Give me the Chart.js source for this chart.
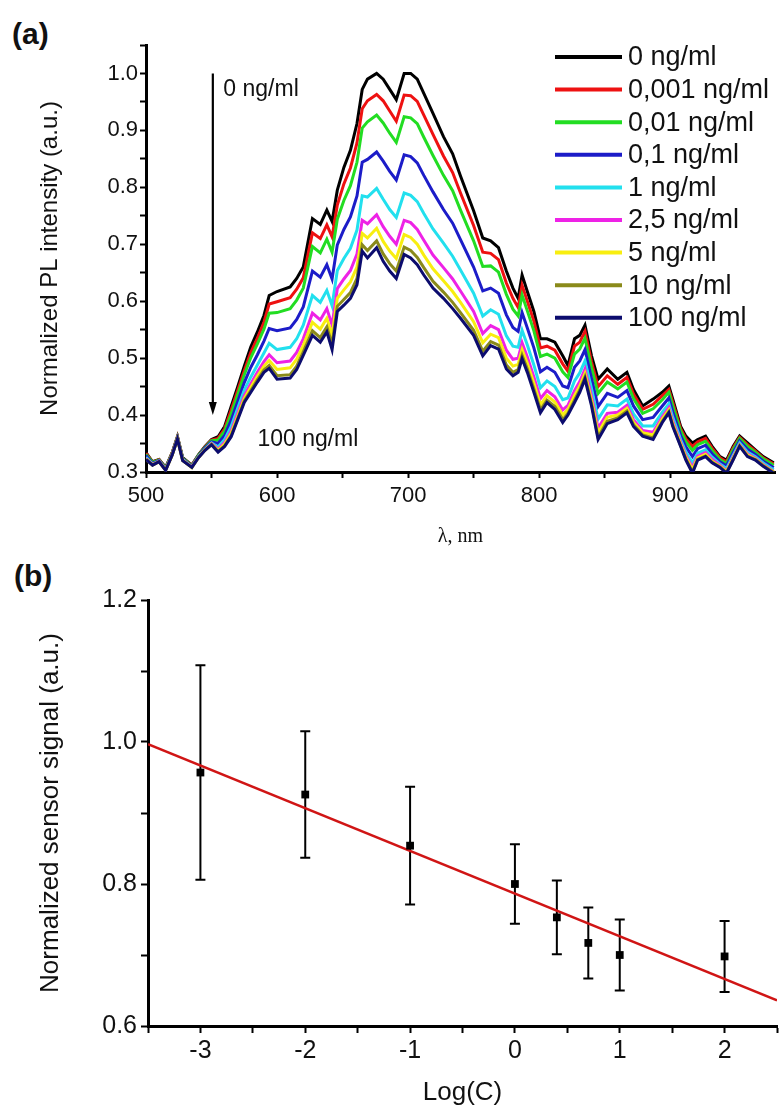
<!DOCTYPE html>
<html>
<head>
<meta charset="utf-8">
<script src="https://cdn.jsdelivr.net/npm/chart.js@4.4.1/dist/chart.umd.min.js"></script>
<style>
  body { margin: 0; background: #fff; width: 784px; height: 1109px; position: relative; overflow: hidden; font-family: "Liberation Sans", Arial, sans-serif; }
  canvas { position: absolute; left: 0; }
  #chartA { top: 0; }
  #chartB { top: 550px; }
  .tag { position: absolute; font-weight: bold; font-size: 30px; line-height: 30px; color: #111; }
</style>
</head>
<body>
<div class="tag" style="left:12px;top:19px">(a)</div>
<div class="tag" style="left:14px;top:561px">(b)</div>
<canvas id="chartA" width="784" height="560"></canvas>
<canvas id="chartB" width="784" height="559"></canvas>
<script>
// ---- panel (a): PL spectra ----
const wavelengths = [500,505,510,515,520,524,528,535,540,545,550,555,560,565,570,575,580,585,590,594,600,610,615,620,627,633,638,642,646,651,656,661,665,669,676,681,686,691,697,702,707,712,719,727,734,740,750,757,763,769,775,780,784,787,791,796,801,806,812,818,822,827,831,835,840,845,852,860,867,872,879,887,894,899,902,908,912,917,921,927,932,938,943,948,953,959,965,971,979];

const seriesLabels = ["0 ng/ml", "0,001 ng/ml", "0,01 ng/ml", "0,1 ng/ml", "1 ng/ml", "2,5 ng/ml", "5 ng/ml", "10 ng/ml", "100 ng/ml"];

const pl0 = [.334,.318,.322,.308,.334,.362,.325,.312,.330,.345,.357,.362,.380,.415,.450,.486,.520,.546,.575,.610,.617,.625,.640,.660,.745,.735,.760,.740,.795,.835,.865,.912,.972,.990,1.0,.990,.972,.954,1.0,1.0,.990,.965,.930,.889,.859,.820,.759,.711,.706,.694,.653,.623,.605,.646,.617,.582,.534,.534,.528,.504,.487,.534,.540,.558,.504,.463,.481,.463,.475,.445,.416,.428,.440,.451,.428,.380,.363,.351,.357,.363,.345,.327,.321,.345,.363,.351,.339,.327,.316];
const pl0001 = [.333,.317,.322,.307,.334,.362,.324,.312,.329,.344,.356,.359,.376,.409,.443,.478,.510,.535,.563,.595,.599,.606,.621,.641,.720,.710,.734,.713,.769,.806,.834,.878,.938,.952,.963,.952,.934,.916,.962,.961,.951,.927,.893,.855,.826,.790,.733,.686,.684,.673,.632,.605,.589,.628,.600,.565,.518,.521,.514,.490,.477,.521,.528,.547,.493,.450,.469,.454,.466,.437,.410,.419,.434,.445,.422,.376,.358,.345,.353,.359,.342,.325,.318,.342,.361,.348,.337,.325,.314];
const pl001 = [.331,.317,.321,.307,.333,.361,.324,.311,.329,.343,.355,.356,.372,.402,.436,.471,.501,.525,.551,.579,.580,.587,.602,.623,.696,.685,.709,.686,.744,.777,.803,.844,.904,.915,.927,.913,.895,.879,.924,.922,.912,.888,.856,.821,.794,.760,.706,.661,.662,.651,.612,.586,.574,.611,.583,.548,.503,.507,.500,.476,.466,.507,.516,.535,.483,.438,.458,.446,.458,.429,.403,.411,.427,.440,.416,.372,.353,.338,.348,.354,.338,.322,.315,.339,.359,.345,.335,.323,.312];
const pl01 = [.329,.315,.320,.306,.332,.360,.323,.310,.328,.342,.353,.350,.364,.391,.424,.457,.484,.506,.530,.552,.548,.553,.568,.590,.653,.642,.664,.639,.699,.726,.748,.785,.844,.849,.862,.846,.828,.813,.857,.854,.843,.821,.792,.761,.737,.708,.660,.618,.623,.614,.576,.554,.547,.580,.553,.518,.476,.484,.475,.451,.448,.484,.495,.515,.464,.415,.438,.431,.443,.416,.392,.396,.416,.430,.406,.364,.344,.327,.341,.347,.332,.318,.311,.334,.355,.340,.331,.319,.308];
const pl1 = [.326,.314,.319,.305,.331,.359,.322,.309,.327,.340,.351,.344,.357,.380,.412,.444,.467,.488,.509,.526,.515,.519,.534,.558,.610,.598,.619,.592,.654,.675,.693,.725,.785,.783,.798,.779,.761,.747,.790,.786,.775,.754,.727,.702,.679,.655,.614,.574,.585,.577,.539,.521,.519,.549,.523,.488,.448,.460,.450,.427,.430,.460,.474,.495,.446,.393,.418,.416,.428,.402,.381,.381,.405,.420,.396,.357,.335,.316,.333,.339,.326,.314,.306,.329,.351,.335,.327,.316,.304];
const pl25 = [.324,.313,.319,.304,.331,.359,.321,.309,.326,.339,.350,.340,.352,.372,.403,.434,.455,.475,.494,.506,.492,.495,.510,.534,.579,.567,.587,.558,.622,.639,.654,.683,.742,.736,.752,.731,.714,.700,.742,.738,.726,.707,.681,.659,.639,.618,.582,.543,.557,.550,.514,.498,.500,.527,.502,.467,.429,.443,.432,.409,.417,.443,.459,.481,.433,.377,.403,.405,.417,.392,.373,.370,.397,.413,.389,.352,.329,.308,.328,.334,.322,.312,.302,.326,.348,.332,.324,.313,.301];
const pl5 = [.323,.313,.318,.304,.330,.358,.321,.308,.326,.339,.349,.338,.349,.368,.398,.429,.449,.468,.486,.496,.480,.483,.498,.522,.563,.551,.570,.540,.605,.620,.634,.660,.719,.711,.728,.705,.688,.675,.717,.712,.700,.681,.657,.636,.617,.598,.564,.527,.542,.536,.500,.486,.489,.515,.491,.456,.418,.434,.423,.400,.410,.434,.451,.473,.426,.369,.396,.400,.412,.387,.369,.365,.393,.409,.385,.349,.326,.304,.325,.331,.319,.310,.301,.324,.347,.330,.323,.312,.300];
const pl10 = [.322,.312,.318,.303,.330,.358,.320,.308,.325,.338,.348,.336,.346,.364,.394,.425,.443,.462,.479,.487,.469,.471,.486,.511,.548,.536,.555,.524,.591,.603,.615,.640,.699,.689,.706,.683,.666,.653,.695,.689,.677,.659,.635,.616,.598,.580,.549,.512,.529,.523,.488,.475,.480,.505,.481,.446,.409,.426,.415,.392,.403,.426,.444,.467,.420,.361,.389,.395,.407,.383,.365,.360,.389,.406,.382,.346,.323,.300,.322,.328,.317,.309,.299,.322,.346,.328,.322,.311,.299];
const pl100 = [.322,.312,.318,.303,.330,.358,.320,.308,.325,.338,.348,.335,.345,.362,.392,.422,.440,.458,.475,.482,.463,.465,.480,.505,.540,.528,.546,.515,.582,.593,.605,.629,.688,.676,.694,.670,.653,.640,.682,.676,.664,.646,.623,.605,.587,.570,.540,.504,.522,.516,.481,.469,.475,.499,.475,.440,.404,.422,.410,.387,.400,.422,.440,.463,.416,.357,.385,.392,.404,.380,.363,.357,.387,.404,.380,.345,.321,.298,.321,.327,.316,.308,.298,.321,.345,.327,.321,.310,.298];

// ---- panel (b): sensor response ----
const logC = [-3, -2, -1, 0, 0.4, 0.7, 1, 2];
const signal = [0.957, 0.926, 0.854, 0.800, 0.753, 0.717, 0.700, 0.698];
const signalErr = [0.151, 0.089, 0.083, 0.056, 0.052, 0.050, 0.050, 0.050];
const fitX = [-3.5, 2.5];
const fitY = [0.997, 0.636];

const SANS = "'Liberation Sans', Arial, sans-serif";
const spectra = [pl0, pl0001, pl001, pl01, pl1, pl25, pl5, pl10, pl100];
const colors = ["#000000", "#ee1111", "#22dd22", "#1c1cc8", "#22e0ee", "#ee22e6", "#f8ee10", "#8a8a1a", "#0c0c6e"];

// ================================
// PANEL (a) EXTRAS: arrow, notes, legend
// ================================
const extrasA = {
    id: "extrasA",
    afterDatasetsDraw(chart) {
        const { ctx, scales: { x, y } } = chart;
        ctx.save();

        // arrow 0 -> 100 ng/ml
        const ax = x.getPixelForValue(551);
        const yTop = y.getPixelForValue(1.0);
        const yTip = y.getPixelForValue(0.4);
        ctx.strokeStyle = "#000";
        ctx.fillStyle = "#000";
        ctx.lineWidth = 2.2;
        ctx.beginPath();
        ctx.moveTo(ax, yTop);
        ctx.lineTo(ax, yTip - 10);
        ctx.stroke();
        ctx.beginPath();
        ctx.moveTo(ax - 4, yTip - 13);
        ctx.lineTo(ax + 4, yTip - 13);
        ctx.lineTo(ax, yTip);
        ctx.closePath();
        ctx.fill();

        ctx.font = "23px " + SANS;
        ctx.fillStyle = "#111";
        ctx.textBaseline = "middle";
        ctx.fillText("0 ng/ml", x.getPixelForValue(559), y.getPixelForValue(0.972));
        ctx.fillText("100 ng/ml", x.getPixelForValue(585), y.getPixelForValue(0.357));

        // legend
        ctx.font = "27px " + SANS;
        chart.data.datasets.forEach((ds, i) => {
            const ly = 57 + i * 32.6;
            ctx.strokeStyle = ds.borderColor;
            ctx.lineWidth = 4;
            ctx.beginPath();
            ctx.moveTo(555, ly);
            ctx.lineTo(622, ly);
            ctx.stroke();
            ctx.fillStyle = "#111";
            ctx.fillText(ds.label, 628, ly + 1);
        });
        ctx.restore();
    }
};

new Chart(document.getElementById("chartA"), {
    type: "line",
    data: {
        datasets: spectra.map((vals, i) => ({
            label: seriesLabels[i],
            data: wavelengths.map((w, k) => ({ x: w, y: vals[k] })),
            borderColor: colors[i],
            borderWidth: 3,
            order: spectra.length - 1 - i
        }))
    },
    options: {
        responsive: false,
        animation: false,
        devicePixelRatio: 1,
        layout: { padding: { left: 0, right: 9, top: 45, bottom: 0 } },
        elements: { point: { radius: 0 }, line: { tension: 0 } },
        plugins: { legend: { display: false }, tooltip: { enabled: false } },
        scales: {
            x: {
                type: "linear",
                min: 500,
                max: 980,
                afterFit: s => { s.height = 88; },
                afterBuildTicks: s => { s.ticks = s.ticks.filter(t => t.value % 50 === 0); },
                ticks: {
                    stepSize: 50, autoSkip: false, maxRotation: 0, padding: 5,
                    color: "#111", font: { family: SANS, size: 22 },
                    callback: v => (v % 100 === 0 ? String(v) : "")
                },
                grid: { drawOnChartArea: false, tickLength: 6, tickWidth: 2, tickColor: "#000" },
                border: { color: "#000", width: 3 },
                title: {
                    display: true, text: "λ, nm", color: "#111",
                    font: { family: "'Liberation Serif', serif", size: 20 },
                    padding: { top: 0, bottom: 11 }
                }
            },
            y: {
                min: 0.3,
                max: 1.05,
                afterFit: s => { s.width = 146; },
                ticks: {
                    stepSize: 0.05, autoSkip: false, padding: 2,
                    color: "#111", font: { family: SANS, size: 22 },
                    callback: v => {
                        const r = Math.round(v * 100);
                        return r % 10 === 0 ? (r / 100).toFixed(1) : "";
                    }
                },
                grid: { drawOnChartArea: false, tickLength: 6, tickWidth: 2, tickColor: "#000" },
                border: { color: "#000", width: 3 },
                title: {
                    display: true, text: "Normalized PL intensity (a.u.)", color: "#111",
                    font: { family: SANS, size: 24 },
                    padding: { top: 36, bottom: 0 }
                }
            }
        }
    },
    plugins: [extrasA]
});

// ================================
// PANEL (b) ERROR BARS
// ================================
const errorBars = {
    id: "errorBars",
    beforeDatasetsDraw(chart) {
        const { ctx, scales: { x, y } } = chart;
        ctx.save();
        ctx.strokeStyle = "#000";
        ctx.lineWidth = 2;
        logC.forEach((c, i) => {
            const px = x.getPixelForValue(c);
            const top = y.getPixelForValue(signal[i] + signalErr[i]);
            const bot = y.getPixelForValue(signal[i] - signalErr[i]);
            ctx.beginPath();
            ctx.moveTo(px, top); ctx.lineTo(px, bot);
            ctx.moveTo(px - 5, top); ctx.lineTo(px + 5, top);
            ctx.moveTo(px - 5, bot); ctx.lineTo(px + 5, bot);
            ctx.stroke();
        });
        ctx.restore();
    }
};

new Chart(document.getElementById("chartB"), {
    type: "scatter",
    data: {
        datasets: [
            {
                label: "signal",
                data: logC.map((c, i) => ({ x: c, y: signal[i] })),
                pointStyle: "rect",
                pointRadius: 5.5,
                backgroundColor: "#000",
                borderColor: "#000",
                borderWidth: 0,
                order: 0
            },
            {
                type: "line",
                label: "fit",
                data: fitX.map((v, i) => ({ x: v, y: fitY[i] })),
                borderColor: "#d01515",
                borderWidth: 2.5,
                pointRadius: 0,
                order: 1
            }
        ]
    },
    options: {
        responsive: false,
        animation: false,
        devicePixelRatio: 1,
        layout: { padding: { left: 0, right: 7, top: 50, bottom: 0 } },
        plugins: { legend: { display: false }, tooltip: { enabled: false } },
        scales: {
            x: {
                type: "linear",
                min: -3.5,
                max: 2.5,
                afterFit: s => { s.height = 83; },
                ticks: {
                    stepSize: 0.5, autoSkip: false, maxRotation: 0, padding: 3,
                    color: "#111", font: { family: SANS, size: 25 },
                    callback: v => (Number.isInteger(v) ? String(v) : "")
                },
                grid: { drawOnChartArea: false, tickLength: 7, tickWidth: 2, tickColor: "#000" },
                border: { color: "#000", width: 3 },
                title: {
                    display: true, text: "Log(C)", color: "#111",
                    font: { family: SANS, size: 26 },
                    padding: { top: 0, bottom: 1 }
                }
            },
            y: {
                min: 0.6,
                max: 1.2,
                afterFit: s => { s.width = 148; },
                ticks: {
                    stepSize: 0.1, autoSkip: false, padding: 4,
                    color: "#111", font: { family: SANS, size: 25 },
                    callback: v => {
                        const r = Math.round(v * 10);
                        return r % 2 === 0 ? (r / 10).toFixed(1) : "";
                    }
                },
                grid: { drawOnChartArea: false, tickLength: 7, tickWidth: 2, tickColor: "#000" },
                border: { color: "#000", width: 3 },
                title: {
                    display: true, text: "Normalized sensor signal (a.u.)", color: "#111",
                    font: { family: SANS, size: 26 },
                    padding: { top: 35, bottom: 0 }
                }
            }
        }
    },
    plugins: [errorBars]
});
</script>
</body>
</html>
